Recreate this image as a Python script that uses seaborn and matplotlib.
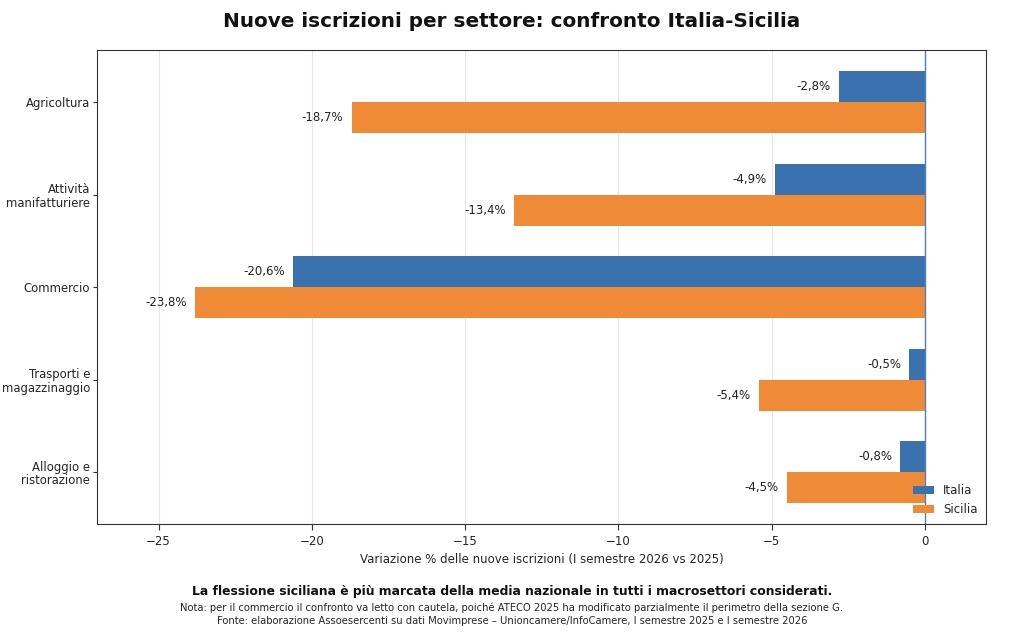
import pandas as pd
import matplotlib
matplotlib.use("Agg")
import matplotlib.pyplot as plt
import seaborn as sns

sns.set_style("white")
plt.rcParams['font.family'] = ['DejaVu Sans']

# dati
settori = ['Agricoltura', 'Attività\nmanifatturiere', 'Commercio',
           'Trasporti e\nmagazzinaggio', 'Alloggio e\nristorazione']
italia = [-2.8, -4.9, -20.6, -0.5, -0.8]
sicilia = [-18.7, -13.4, -23.8, -5.4, -4.5]
aree = ['Italia', 'Sicilia']
colori = ['#3a72b0', '#ef8a36']

df = pd.DataFrame({
    'settore': settori * 2,
    'valore': italia + sicilia,
    'area': ['Italia'] * len(settori) + ['Sicilia'] * len(settori),
})

fig = plt.figure(figsize=(10.24, 6.44), dpi=100)
ax = fig.add_axes([0.095, 0.186, 0.868, 0.736])

sns.barplot(data=df, y='settore', x='valore', hue='area', hue_order=aree,
            palette=colori, orient='h', width=0.67, saturation=1,
            linewidth=0, ax=ax)

for cont in ax.containers:
    labels = [f"{v:.1f}%".replace('.', ',') for v in cont.datavalues]
    ax.bar_label(cont, labels=labels, padding=6, fontsize=8.5, color='#222222')

ax.axvline(0, color='#4a82c4', lw=1)
ax.set_xlim(-27, 2)
ax.set_ylim(4.56, -0.56)
ax.grid(axis='x', color='#e6e6e6', lw=0.8)
ax.set_axisbelow(True)
ax.set_xticks([-25, -20, -15, -10, -5, 0])
ax.tick_params(axis='x', labelsize=8.5, length=4, color='#333333', bottom=True)
ax.tick_params(axis='y', labelsize=8.4, length=3, pad=2, color='#333333', left=True)
for t in ax.get_yticklabels():
    t.set_linespacing(1.05)
for s in ax.spines.values():
    s.set_color('#333333')
ax.set_ylabel('')
ax.set_xlabel('Variazione % delle nuove iscrizioni (I semestre 2026 vs 2025)', fontsize=8.5)

ax.legend(loc='lower right', frameon=False, fontsize=8.5, handlelength=1.8,
          borderaxespad=0.3)

fig.text(0.5, 0.966, 'Nuove iscrizioni per settore: confronto Italia-Sicilia',
         ha='center', va='center', fontsize=14.4, fontweight='bold', color='#111111')
fig.text(0.5, 0.081, 'La flessione siciliana è più marcata della media nazionale in tutti i macrosettori considerati.',
         ha='center', va='center', fontsize=8.9, fontweight='bold', color='#111111')
fig.text(0.5, 0.056, 'Nota: per il commercio il confronto va letto con cautela, poiché ATECO 2025 ha modificato parzialmente il perimetro della sezione G.',
         ha='center', va='center', fontsize=7.2)
fig.text(0.5, 0.036, 'Fonte: elaborazione Assoesercenti su dati Movimprese – Unioncamere/InfoCamere, I semestre 2025 e I semestre 2026',
         ha='center', va='center', fontsize=7.2)

plt.savefig('out.png', dpi=100)
